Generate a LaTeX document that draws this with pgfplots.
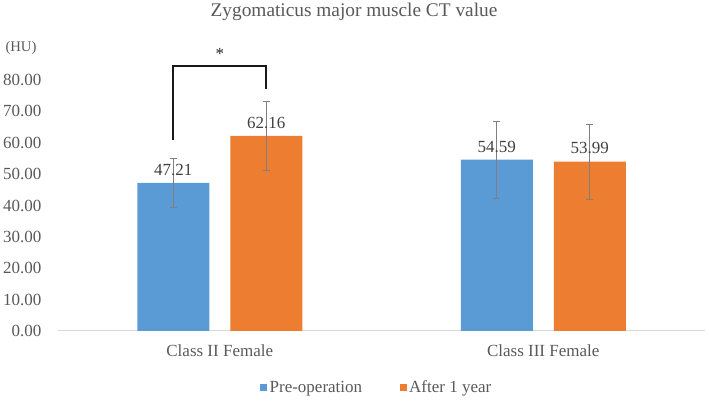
\documentclass[border=0pt]{standalone}
\usepackage{pgfplots}
\pgfplotsset{compat=1.18}
\usepackage{pgfplotstable}
\usepackage{fontspec}
\setmainfont{Liberation Serif}

\definecolor{preblue}{HTML}{5B9BD5}
\definecolor{afterorange}{HTML}{ED7D31}
\definecolor{txtgray}{HTML}{595959}
\definecolor{lblgray}{HTML}{404040}
\definecolor{errgray}{HTML}{7F7F7F}
\definecolor{axisgray}{HTML}{D9D9D9}

% category, mean, sd
\pgfplotstableread{
x y err
0 47.21 7.8
1 54.59 12.3
}\pretab
\pgfplotstableread{
x y err
0 62.16 11.0
1 53.99 12.0
}\aftertab

\newcommand{\lblfont}{\fontsize{12.75pt}{14pt}\selectfont}

\begin{document}
\begin{tikzpicture}
  \useasboundingbox (0,0) rectangle (531.75pt,301.5pt);
  \begin{axis}[
      at={(43.5pt,53.25pt)}, anchor=south west,
      scale only axis, width=485.25pt, height=188.25pt,
      xmin=-0.5, xmax=1.5, ymin=0, ymax=80,
      ybar=15.75pt, bar width=54pt,
      xtick={0,1}, xticklabels={Class II Female, Class III Female},
      ytick={0,10,...,80},
      axis x line*=bottom, axis y line*=left,
      x axis line style={-, draw=axisgray, line width=0.75pt},
      y axis line style={draw=none},
      major tick length=0pt,
      ticklabel style={font=\lblfont, text=txtgray},
      yticklabel style={xshift=-9pt},
      xticklabel style={yshift=-7pt},
      /pgf/number format/assume math mode=true,
      yticklabel={\pgfmathprintnumber[fixed, fixed zerofill, precision=2]{\tick}},
      nodes near coords,
      nodes near coords style={font=\lblfont, text=lblgray,
        /pgf/number format/fixed, /pgf/number format/fixed zerofill,
        /pgf/number format/precision=2, yshift=2pt},
      error bars/y dir=both, error bars/y explicit,
      error bars/error bar style={errgray, line width=0.6pt},
      error bars/error mark options={errgray, rotate=90, mark size=2.5pt, line width=0.6pt},
      legend columns=2,
      legend style={at={(0.493,-0.226)}, anchor=center, draw=none, fill=none,
        font=\lblfont, text=txtgray,
        /tikz/every even column/.append style={column sep=26pt}},
      legend image code/.code={\fill[#1] (0pt,-2.6pt) rectangle (5.25pt,2.6pt);},
      clip=false,
    ]
    \addplot[fill=preblue, draw=none] table[x=x, y=y, y error=err] {\pretab};
    \addplot[fill=afterorange, draw=none] table[x=x, y=y, y error=err] {\aftertab};
    \legend{Pre-operation, After 1 year}

    % significance bracket
    \draw[line width=1.8pt, black!90] (axis cs:-0.1437,60.8) -- (axis cs:-0.1437,84.5)
      -- (axis cs:0.1437,84.5) -- (axis cs:0.1437,77);
    \node[font=\lblfont, text=black!85] at (axis cs:0,88.3) {*};
  \end{axis}
  \node[font=\fontsize{14.5pt}{17pt}\selectfont, text=txtgray] at (265.5pt,292.5pt)
    {Zygomaticus major muscle CT value};
  \node[font=\fontsize{11pt}{13pt}\selectfont, text=txtgray] at (15.75pt,265.5pt) {(HU)};
\end{tikzpicture}
\end{document}
